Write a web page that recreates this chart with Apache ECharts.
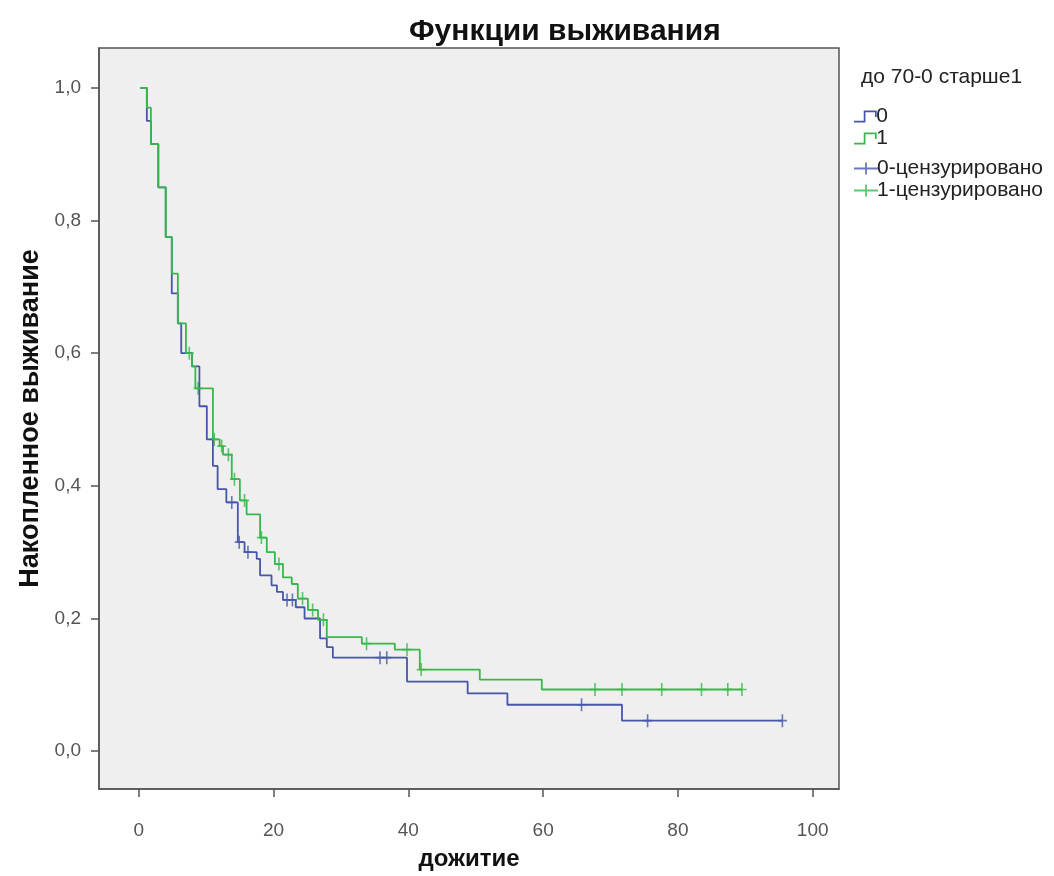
<!DOCTYPE html>
<html>
<head>
<meta charset="utf-8">
<script src="https://cdn.jsdelivr.net/npm/echarts@6/dist/echarts.min.js"></script>
<style>
  html, body { margin: 0; padding: 0; background: #fff; }
  #survivalChart { width: 1054px; height: 876px; }
</style>
</head>
<body>
<div id="survivalChart"></div>
<script>
// шаги кривой Каплана-Мейера: [время, выживание]
const group0Steps = [
  [0.2, 1.0], [1.2, 0.95], [1.8, 0.915], [2.9, 0.85], [4.0, 0.775], [4.9, 0.69],
  [5.8, 0.645], [6.3, 0.60], [7.9, 0.58], [9.0, 0.52], [10.1, 0.47], [11.0, 0.43],
  [11.7, 0.395], [13.0, 0.375], [14.7, 0.315], [15.7, 0.30], [17.5, 0.29], [18.0, 0.265],
  [19.7, 0.25], [20.5, 0.24], [21.4, 0.228], [23.3, 0.217], [24.6, 0.20], [26.9, 0.17],
  [27.9, 0.157], [28.8, 0.141], [39.8, 0.105], [48.8, 0.087], [54.7, 0.07], [71.7, 0.046],
  [95.5, 0.046]
];
const group1Steps = [
  [0.2, 1.0], [1.2, 0.97], [1.8, 0.915], [2.9, 0.85], [4.0, 0.775], [4.9, 0.72],
  [5.8, 0.645], [7.0, 0.60], [7.9, 0.58], [8.4, 0.547], [11.0, 0.47], [12.0, 0.46],
  [12.5, 0.447], [13.8, 0.41], [15.0, 0.378], [16.0, 0.357], [18.0, 0.322], [19.0, 0.30],
  [20.2, 0.282], [21.4, 0.262], [22.7, 0.252], [23.6, 0.23], [25.1, 0.213], [26.6, 0.198],
  [27.9, 0.172], [33.1, 0.162], [38.0, 0.153], [41.7, 0.123], [50.6, 0.108], [59.8, 0.093],
  [89.5, 0.093]
];
// цензурированные наблюдения
const group0Censored = [
  [13.8, 0.375], [14.9, 0.315], [16.2, 0.30], [22.0, 0.228], [22.8, 0.228],
  [35.8, 0.141], [36.8, 0.141], [65.7, 0.07], [75.5, 0.046], [95.5, 0.046]
];
const group1Censored = [
  [7.5, 0.60], [8.8, 0.547], [11.2, 0.47], [12.3, 0.46], [13.3, 0.447], [14.2, 0.41],
  [15.7, 0.378], [18.2, 0.322], [20.8, 0.282], [24.3, 0.23], [25.8, 0.213], [27.4, 0.198],
  [33.8, 0.162], [39.8, 0.153], [41.9, 0.123], [67.7, 0.093], [71.7, 0.093], [77.6, 0.093],
  [83.5, 0.093], [87.4, 0.093], [89.5, 0.093]
];
const xTicks = [0, 20, 40, 60, 80, 100];
const yTicks = [0, 0.2, 0.4, 0.6, 0.8, 1.0];

const blue = "#4656aa";
const green = "#36b94a";
const font = "'Liberation Sans', Arial, sans-serif";

const stepIcon = "path://M0,9.5H9V0H21V6H19.4V1.6H10.6V11.1H0Z";
const crossIcon = "path://M0,5.1H11.1V0H12.9V5.1H24V6.9H12.9V12H11.1V6.9H0Z";
const crossSymbol = "path://M0,5.2H4.1V0H5.9V5.2H10V6.8H5.9V12H4.1V6.8H0Z";

let chart = echarts.init(document.getElementById("survivalChart"));
chart.setOption({
  animation: false,
  backgroundColor: "#fff",
  title: [
    {
      text: "Функции выживания",
      left: 404,
      top: 12,
      textStyle: { fontFamily: font, fontSize: 30, fontWeight: "bold", color: "#111" }
    },
    {
      text: "до 70-0 старше1",
      left: 856,
      top: 62,
      textStyle: { fontFamily: font, fontSize: 21, fontWeight: "normal", color: "#222" }
    }
  ],
  legend: [
    {
      orient: "vertical",
      left: 849,
      top: 101,
      itemGap: 1,
      itemWidth: 24,
      itemHeight: 12,
      textStyle: { fontFamily: font, fontSize: 21, color: "#222", padding: [0, 0, 0, -6] },
      data: [
        { name: "0", icon: stepIcon },
        { name: "1", icon: stepIcon }
      ]
    },
    {
      orient: "vertical",
      left: 849,
      top: 153,
      itemGap: 1,
      itemWidth: 24,
      itemHeight: 12,
      textStyle: { fontFamily: font, fontSize: 21, color: "#222", padding: [0, 0, 0, -6] },
      data: [
        { name: "0-цензурировано", icon: crossIcon },
        { name: "1-цензурировано", icon: crossIcon }
      ]
    }
  ],
  grid: {
    left: 99,
    right: 215,
    top: 48,
    bottom: 83,
    show: true,
    backgroundColor: "#efefef",
    borderColor: "#555",
    borderWidth: 1.5
  },
  xAxis: {
    type: "value",
    min: -5.9,
    max: 103.9,
    name: "дожитие",
    nameLocation: "middle",
    nameGap: 58,
    nameTextStyle: { fontFamily: font, fontSize: 24, fontWeight: "bold", color: "#111" },
    axisLine: { show: true, onZero: false, lineStyle: { color: "#555", width: 1.5 } },
    axisTick: { show: true, length: 8, customValues: xTicks, lineStyle: { color: "#555", width: 1.5 } },
    axisLabel: { customValues: xTicks, fontFamily: font, fontSize: 19, color: "#555", margin: 32 },
    splitLine: { show: false }
  },
  yAxis: {
    type: "value",
    min: -0.057,
    max: 1.06,
    name: "Накопленное выживание",
    nameLocation: "middle",
    nameGap: 50,
    nameTextStyle: { fontFamily: font, fontSize: 27, fontWeight: "bold", color: "#111" },
    axisLine: { show: true, onZero: false, lineStyle: { color: "#555", width: 1.5 } },
    axisTick: { show: true, length: 8, customValues: yTicks, lineStyle: { color: "#555", width: 1.5 } },
    axisLabel: {
      customValues: yTicks,
      fontFamily: font,
      fontSize: 19,
      color: "#555",
      margin: 18,
      formatter: v => v.toFixed(1).replace(".", ",")
    },
    splitLine: { show: false }
  },
  series: [
    {
      name: "0",
      type: "line",
      step: "end",
      data: group0Steps,
      showSymbol: false,
      symbol: "none",
      color: blue,
      lineStyle: { color: blue, width: 1.8 }
    },
    {
      name: "1",
      type: "line",
      step: "end",
      data: group1Steps,
      showSymbol: false,
      symbol: "none",
      color: green,
      lineStyle: { color: green, width: 1.8 }
    },
    {
      name: "0-цензурировано",
      type: "scatter",
      data: group0Censored,
      symbol: crossSymbol,
      symbolSize: [9, 13],
      color: blue
    },
    {
      name: "1-цензурировано",
      type: "scatter",
      data: group1Censored,
      symbol: crossSymbol,
      symbolSize: [9, 13],
      color: green
    }
  ]
});
</script>
</body>
</html>
